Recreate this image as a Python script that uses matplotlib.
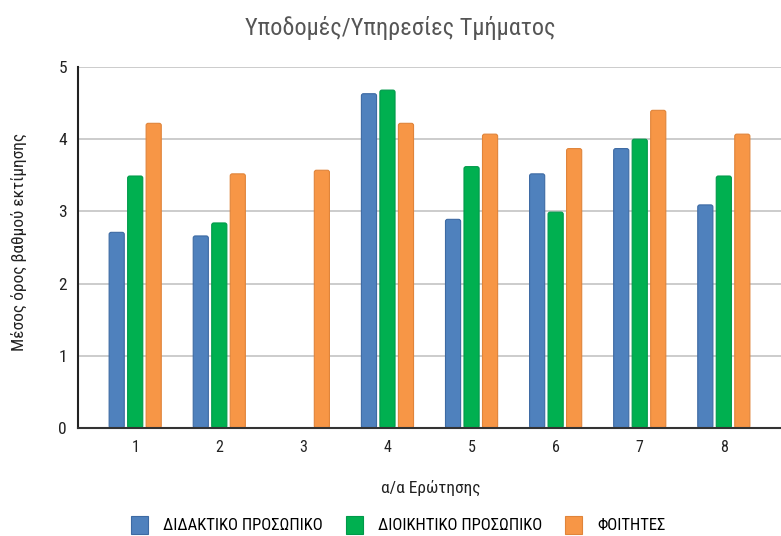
import matplotlib
matplotlib.use("Agg")
import matplotlib.pyplot as plt
from matplotlib import font_manager
from matplotlib.patches import FancyBboxPatch, Patch
import numpy as np

categories = ["1", "2", "3", "4", "5", "6", "7", "8"]
didaktiko = [2.71, 2.66, 0.0, 4.63, 2.89, 3.52, 3.87, 3.09]
dioikitiko = [3.49, 2.84, 0.0, 4.68, 3.62, 2.99, 4.00, 3.49]
foitites = [4.22, 3.52, 3.57, 4.22, 4.07, 3.87, 4.40, 4.07]
series_names = ["ΔΙΔΑΚΤΙΚΟ ΠΡΟΣΩΠΙΚΟ", "ΔΙΟΙΚΗΤΙΚΟ ΠΡΟΣΩΠΙΚΟ", "ΦΟΙΤΗΤΕΣ"]
colors = ["#4f81bd", "#00b050", "#f79646"]
edge_colors = ["#3d6aa3", "#00994a", "#e0843a"]

available = {f.name for f in font_manager.fontManager.ttflist}
fam = [f for f in ["Roboto Condensed", "Fira Sans Condensed", "Liberation Sans", "DejaVu Sans"]
       if f in available]
plt.rcParams['font.family'] = fam

fig = plt.figure(figsize=(7.81, 5.36), dpi=100)
ax = fig.add_axes([0.0999, 0.2015, 0.9001, 0.6735])

ax.set_ylim(0, 5)
ax.set_xlim(0.32, 8.68)

x = np.arange(1, len(categories) + 1)
pitch = 0.22
width = 0.18
px_per_x = 0.9001 * 781 / (8.68 - 0.32)
px_per_y = 0.6735 * 536 / 5.0
aspect = px_per_x / px_per_y
for i, (vals, c, ec, name) in enumerate(zip([didaktiko, dioikitiko, foitites], colors, edge_colors, series_names)):
    bars = ax.bar(x + (i - 1) * pitch, vals, width=width, color=c, edgecolor=ec, linewidth=0.8,
                  label=name, zorder=3)
    for b in bars:
        b.set_visible(False)
        if b.get_height() <= 0:
            continue
        fb = FancyBboxPatch((b.get_x(), b.get_y()), b.get_width(), b.get_height(),
                            boxstyle="round,pad=0,rounding_size=0.025",
                            mutation_aspect=aspect,
                            facecolor=c, edgecolor=ec, linewidth=0.8, zorder=3)
        ax.add_patch(fb)

ax.set_yticks([0, 1, 2, 3, 4, 5])
ax.set_xticks(x)
ax.set_xticklabels(categories)
ax.yaxis.grid(True, color="#c4c4c4", linewidth=1.2, zorder=0)
ax.set_axisbelow(True)
for s in ["top", "right"]:
    ax.spines[s].set_visible(False)
ax.spines["left"].set_color("#222222")
ax.spines["left"].set_linewidth(1.5)
ax.spines["bottom"].set_color("#333333")
ax.spines["bottom"].set_linewidth(1.5)
ax.spines["bottom"].set_zorder(4)
ax.tick_params(axis="x", length=0, pad=9, labelsize=11.5, colors="#222222")
ax.tick_params(axis="y", length=0, pad=8, labelsize=12.5, colors="#222222")

fig.text(0.512, 0.948, "Υποδομές/Υπηρεσίες Τμήματος", ha="center", va="center",
         fontsize=17.5, color="#555555")
fig.text(0.024, 0.548, "Μέσος όρος βαθμού εκτίμησης", rotation=90, ha="center", va="center",
         fontsize=12.5, color="#222222")
fig.text(0.552, 0.089, "α/α Ερώτησης", ha="center", va="center", fontsize=12.5, color="#222222")

handles = [Patch(facecolor=c, edgecolor=ec, linewidth=0.8) for c, ec in zip(colors, edge_colors)]
fig.legend(handles, series_names, loc="center", bbox_to_anchor=(0.510, 0.021), ncol=3, frameon=False,
           fontsize=12, handlelength=1.0, handleheight=1.3, columnspacing=1.4, handletextpad=0.9)

fig.savefig("out.png", dpi=100, facecolor="white")
